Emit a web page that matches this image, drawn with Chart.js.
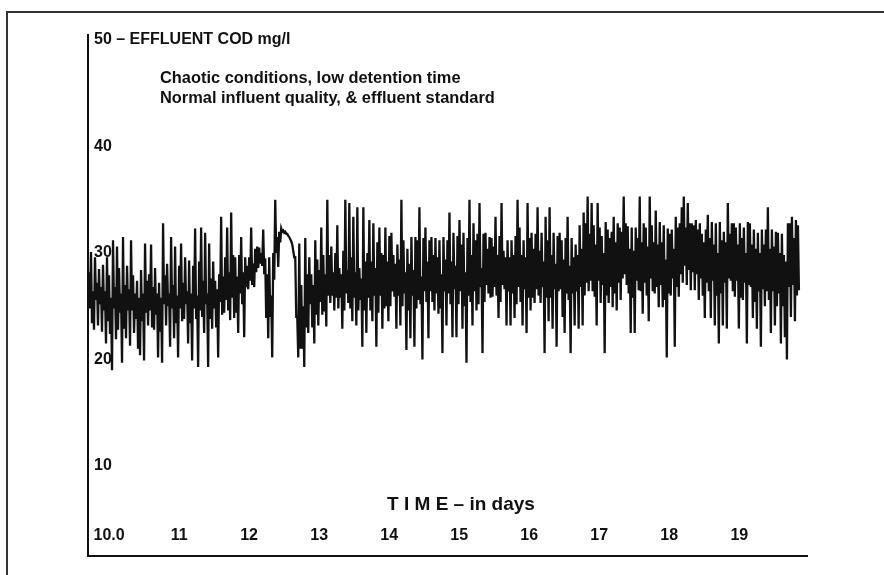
<!DOCTYPE html>
<html>
<head>
<meta charset="utf-8">
<title>Effluent COD - chaotic conditions</title>
<script src="https://cdn.jsdelivr.net/npm/chart.js@4/dist/chart.umd.min.js"></script>
<style>
  html, body { margin: 0; padding: 0; background: #fff; }
  #frame {
    position: absolute;
    left: 6px;
    top: 11px;
    right: 0;
    bottom: 0;
    border-top: 2px solid #333;
    border-left: 2px solid #333;
  }
  #chart { position: absolute; left: 0; top: 0; }
</style>
</head>
<body>
<div id="frame"></div>
<canvas id="chart" width="884" height="575"></canvas>
<script>
// Time axis (days) and its printed labels.
var DAY_TICKS = [10, 11, 12, 13, 14, 15, 16, 17, 18, 19];
var DAY_LABELS = ['10.0', '11', '12', '13', '14', '15', '16', '17', '18', '19'];
var TIME_TITLE = 'T I M E \u2013 in days';

// COD axis (mg/l) and its printed labels.
var COD_TICKS = [10, 20, 30, 40, 50];
var COD_LABELS = ['10', '20', '30', '40', '50 \u2013 EFFLUENT COD mg/l'];

var NOTES = [
  'Chaotic conditions, low detention time',
  'Normal influent quality, & effluent standard',
];

// Sampling of the effluent record (one interval per entry below).
var START_DAY = 9.713;
var STEP_DAY = 0.0286;

// Highest effluent COD (mg/l) in each interval.
var COD_HIGH = [
  28.2, 30.1, 26.4, 29.6, 27.2,  28.5, 26.8, 28.9, 26.4, 29.6,
  27.9, 25.8, 31.2, 26.8, 30.6,  28.6, 26.2, 31.5, 27.0, 28.8,
  26.6, 31.2, 27.9, 26.2, 27.4,  25.8, 28.4, 26.2, 30.9, 27.4,
  28.0, 30.8, 26.8, 28.6, 26.2,  27.2, 25.8, 32.8, 27.9, 29.0,
  26.2, 31.5, 27.0, 30.6, 26.0,  28.8, 30.9, 27.2, 29.6, 26.4,
  29.3, 26.2, 28.8, 32.3, 26.0,  29.2, 32.4, 27.4, 31.9, 26.2,
  30.9, 27.6, 29.2, 27.4, 26.6,  28.0, 33.4, 27.8, 29.6, 32.4,
  28.2, 33.8, 29.8, 29.6, 27.8,  29.8, 31.5, 28.2, 29.6, 28.8,
  29.6, 32.4, 29.0, 30.4, 30.6,  30.5, 30.0, 32.2, 29.5, 28.0,
  29.6, 26.0, 30.0, 35.0, 31.5,  32.0, 32.3, 32.1, 32.0, 31.8,
  31.5, 31.1, 30.2, 29.6, 24.0,  30.9, 27.0, 25.0, 31.4, 28.0,
  29.6, 28.0, 27.0, 31.2, 29.4,  28.4, 32.4, 29.8, 28.0, 35.0,
  29.8, 30.6, 28.2, 30.0, 32.6,  28.6, 28.0, 30.2, 35.0, 28.4,
  34.7, 29.6, 33.4, 28.2, 34.3,  28.6, 27.6, 34.3, 29.2, 30.0,
  33.1, 29.2, 32.8, 28.6, 31.0,  32.4, 30.0, 29.8, 32.4, 29.2,
  31.6, 31.9, 29.8, 29.0, 30.8,  29.4, 35.0, 31.2, 28.2, 30.4,
  29.0, 31.5, 28.4, 31.5, 31.2,  34.3, 27.8, 31.4, 32.4, 29.2,
  31.2, 31.5, 29.8, 31.4, 29.6,  31.2, 28.0, 31.5, 29.4, 31.2,
  33.8, 29.2, 31.9, 28.8, 31.6,  33.1, 30.8, 31.9, 28.2, 31.4,
  35.0, 29.8, 32.8, 31.2, 31.8,  34.7, 28.6, 31.8, 31.9, 30.4,
  31.5, 31.4, 30.6, 33.4, 29.8,  31.6, 34.7, 30.2, 29.6, 31.2,
  29.6, 31.2, 29.8, 31.6, 35.0,  32.4, 29.8, 31.2, 29.6, 34.7,
  31.4, 31.9, 30.4, 31.8, 34.3,  30.2, 31.9, 29.2, 33.4, 31.2,
  34.3, 29.8, 31.9, 29.0, 31.6,  31.9, 31.2, 29.4, 31.4, 33.4,
  28.8, 31.4, 29.6, 30.8, 29.8,  32.6, 30.4, 33.8, 32.8, 35.3,
  31.8, 34.7, 32.6, 30.8, 34.7,  32.4, 31.6, 30.0, 32.9, 32.2,
  31.4, 32.0, 33.4, 31.0, 32.8,  32.4, 32.0, 35.3, 32.8, 32.5,
  30.4, 32.4, 30.2, 32.4, 31.4,  35.3, 31.0, 32.8, 32.4, 30.6,
  35.3, 32.6, 31.0, 34.0, 30.8,  32.9, 31.0, 32.6, 29.4, 32.3,
  31.8, 32.2, 30.4, 33.4, 32.4,  32.8, 34.3, 35.3, 32.4, 34.7,
  32.8, 32.8, 32.6, 33.1, 32.2,  32.8, 31.8, 31.0, 32.2, 33.6,
  31.4, 32.9, 30.8, 32.8, 30.0,  32.9, 31.2, 32.0, 31.0, 34.7,
  31.8, 32.8, 32.8, 32.4, 30.8,  32.8, 31.4, 32.4, 30.0, 32.9,
  32.8, 30.8, 32.2, 30.4, 31.9,  30.0, 32.2, 30.8, 32.2, 34.3,
  30.4, 32.2, 30.6, 32.0, 31.9,  30.0, 31.8, 29.8, 29.2, 32.8,
  32.8, 33.4, 31.4, 33.1, 32.6,
];

// Lowest effluent COD (mg/l) in each interval.
var COD_LOW = [
  24.8, 23.4, 22.8, 25.6, 23.2,  25.2, 22.6, 24.6, 21.5, 23.6,
  22.4, 19.0, 24.8, 21.9, 22.8,  24.4, 19.7, 22.9, 22.0, 24.6,
  21.3, 24.6, 22.5, 23.8, 21.0,  20.4, 23.6, 19.9, 24.4, 23.2,
  24.6, 23.0, 22.8, 24.2, 20.2,  22.6, 19.7, 25.2, 23.2, 25.0,
  21.2, 24.8, 22.0, 23.4, 20.2,  24.8, 23.6, 23.8, 25.2, 21.5,
  23.4, 19.9, 24.8, 23.8, 19.3,  24.6, 24.0, 22.5, 25.2, 19.3,
  23.8, 22.9, 24.8, 23.0, 20.2,  25.4, 24.2, 24.4, 25.6, 24.6,
  23.7, 25.8, 23.9, 24.4, 22.5,  26.2, 25.2, 22.1, 26.8, 26.6,
  27.4, 27.0, 26.8, 28.2, 28.6,  29.0, 28.8, 28.0, 23.9, 22.0,
  24.0, 20.2, 27.5, 30.0, 28.7,  31.0, 32.0, 31.9, 31.8, 31.6,
  31.3, 30.8, 29.6, 24.0, 20.2,  21.0, 21.0, 19.3, 23.0, 22.5,
  25.2, 23.0, 21.5, 24.2, 23.2,  25.4, 24.2, 24.5, 23.1, 26.0,
  25.3, 26.0, 24.6, 25.8, 24.8,  25.8, 22.9, 24.6, 26.2, 25.3,
  24.8, 23.6, 25.8, 23.2, 24.6,  25.6, 21.2, 24.6, 22.5, 25.8,
  24.6, 23.6, 26.0, 21.2, 24.4,  26.0, 22.9, 24.8, 25.0, 23.6,
  25.0, 26.4, 25.9, 22.9, 26.0,  23.2, 25.0, 26.2, 20.9, 24.6,
  22.0, 26.0, 21.2, 24.8, 25.6,  25.2, 20.0, 26.4, 25.4, 22.0,
  26.4, 25.4, 24.6, 26.2, 24.3,  24.8, 20.6, 26.4, 23.2, 26.2,
  25.2, 22.1, 26.6, 22.1, 25.2,  26.4, 22.9, 25.0, 19.7, 26.0,
  25.4, 23.2, 26.4, 24.6, 25.2,  26.8, 20.6, 25.4, 27.0, 26.2,
  25.8, 25.9, 26.8, 26.0, 23.9,  25.4, 27.0, 26.6, 23.2, 26.4,
  23.2, 26.2, 23.9, 25.2, 26.8,  25.4, 23.2, 26.6, 22.5, 25.8,
  24.6, 25.8, 25.3, 26.6, 26.0,  25.3, 26.8, 20.6, 25.8, 23.6,
  25.8, 22.9, 26.6, 21.2, 26.4,  26.6, 24.0, 22.5, 26.2, 25.6,
  20.6, 26.2, 23.2, 26.4, 22.9,  26.8, 23.2, 26.0, 27.2, 26.4,
  27.4, 26.4, 25.9, 23.2, 27.4,  25.3, 27.0, 20.6, 26.0, 25.3,
  26.8, 24.9, 26.2, 24.6, 27.2,  25.6, 27.6, 28.0, 27.0, 26.2,
  22.5, 25.8, 22.5, 27.4, 26.5,  26.4, 24.3, 27.2, 26.0, 23.6,
  27.6, 26.4, 26.2, 26.8, 24.9,  27.0, 24.9, 25.6, 20.2, 26.2,
  26.0, 27.6, 21.2, 26.8, 25.9,  28.0, 27.2, 28.8, 27.0, 28.4,
  26.5, 28.2, 26.5, 28.0, 25.6,  27.6, 26.0, 23.9, 27.2, 26.4,
  23.9, 27.4, 23.2, 26.0, 21.5,  26.2, 23.2, 27.2, 22.9, 27.6,
  27.4, 26.4, 25.9, 27.4, 22.9,  25.8, 25.6, 27.2, 21.5, 27.0,
  26.8, 23.9, 25.4, 22.9, 26.4,  21.2, 26.6, 25.0, 26.4, 25.6,
  22.5, 26.4, 23.2, 25.0, 26.2,  21.5, 25.0, 22.1, 20.0, 26.8,
  24.0, 27.0, 23.6, 26.0, 26.5,
];

var X_MIN = 9.699;
var X_MAX = 19.967;
var Y_MIN = 1.55;
var Y_MAX = 50.47;

var FONT_FAMILY = '"Liberation Sans", Arial, sans-serif';
var INK = '#111';

/**
 * @description Writes the note lines and the time caption inside the plot.
 */
var notesPlugin = {
  id: 'notes',
  afterDraw: function (chart) {
    var ctx = chart.ctx;
    var area = chart.chartArea;

    ctx.save();
    ctx.fillStyle = INK;
    ctx.textAlign = 'left';
    ctx.textBaseline = 'alphabetic';
    ctx.font = 'bold 16.4px ' + FONT_FAMILY;
    NOTES.forEach(function (line, i) {
      ctx.fillText(line, area.left + 72, area.top + 48 + i * 20);
    });

    ctx.font = 'bold 19px ' + FONT_FAMILY;
    ctx.textAlign = 'center';
    ctx.textBaseline = 'middle';
    ctx.fillText(TIME_TITLE, area.left + 373, area.bottom - 51);
    ctx.restore();
  },
};

/**
 * @description Fixed ticks for a scale.
 */
function fixedTicks(values) {
  return function (scale) {
    scale.ticks = values.map(function (v) {
      return { value: v };
    });
  };
}

/**
 * @description Trace points: in every interval the pen runs from the high to the low.
 */
function tracePoints() {
  var points = [];
  COD_HIGH.forEach(function (high, i) {
    var day = START_DAY + i * STEP_DAY;
    points.push({ x: day, y: high });
    points.push({ x: day + STEP_DAY / 2, y: COD_LOW[i] });
  });
  return points;
}

/**
 * @description Entry point of chart drawing.
 */
function drawChart() {
  Chart.defaults.font.family = FONT_FAMILY;
  Chart.defaults.color = INK;

  return new Chart(document.getElementById('chart'), {
    type: 'line',
    data: {
      datasets: [{
        data: tracePoints(),
        borderColor: INK,
        borderWidth: 2.3,
        pointRadius: 0,
        tension: 0,
        fill: false,
      }],
    },
    options: {
      responsive: false,
      animation: false,
      layout: { padding: { left: 88, top: 35, right: 77, bottom: 19 } },
      plugins: {
        legend: { display: false },
        tooltip: { enabled: false },
      },
      scales: {
        // Day labels, printed just above the base line.
        x: {
          type: 'linear',
          position: { y: Y_MIN },
          min: X_MIN,
          max: X_MAX,
          afterBuildTicks: fixedTicks(DAY_TICKS),
          grid: { display: false, drawTicks: false },
          border: { display: false },
          ticks: {
            autoSkip: false,
            maxRotation: 0,
            padding: -30,
            font: { size: 16, weight: 'bold' },
            callback: function (value, index) { return DAY_LABELS[index]; },
          },
        },
        // Base line of the plot.
        xBase: {
          type: 'linear',
          position: 'bottom',
          min: X_MIN,
          max: X_MAX,
          afterFit: function (scale) { scale.height = 0; },
          grid: { display: false, drawTicks: false },
          border: { display: true, color: INK, width: 2 },
          ticks: { display: false },
        },
        y: {
          type: 'linear',
          min: Y_MIN,
          max: Y_MAX,
          afterFit: function (scale) { scale.width = 0; },
          afterBuildTicks: fixedTicks(COD_TICKS),
          grid: { display: false, drawTicks: false },
          border: { display: true, color: INK, width: 2 },
          ticks: {
            mirror: true,
            padding: 6,
            font: { size: 16, weight: 'bold' },
            callback: function (value, index) { return COD_LABELS[index]; },
          },
        },
      },
    },
    plugins: [notesPlugin],
  });
}

drawChart();
</script>
</body>
</html>
